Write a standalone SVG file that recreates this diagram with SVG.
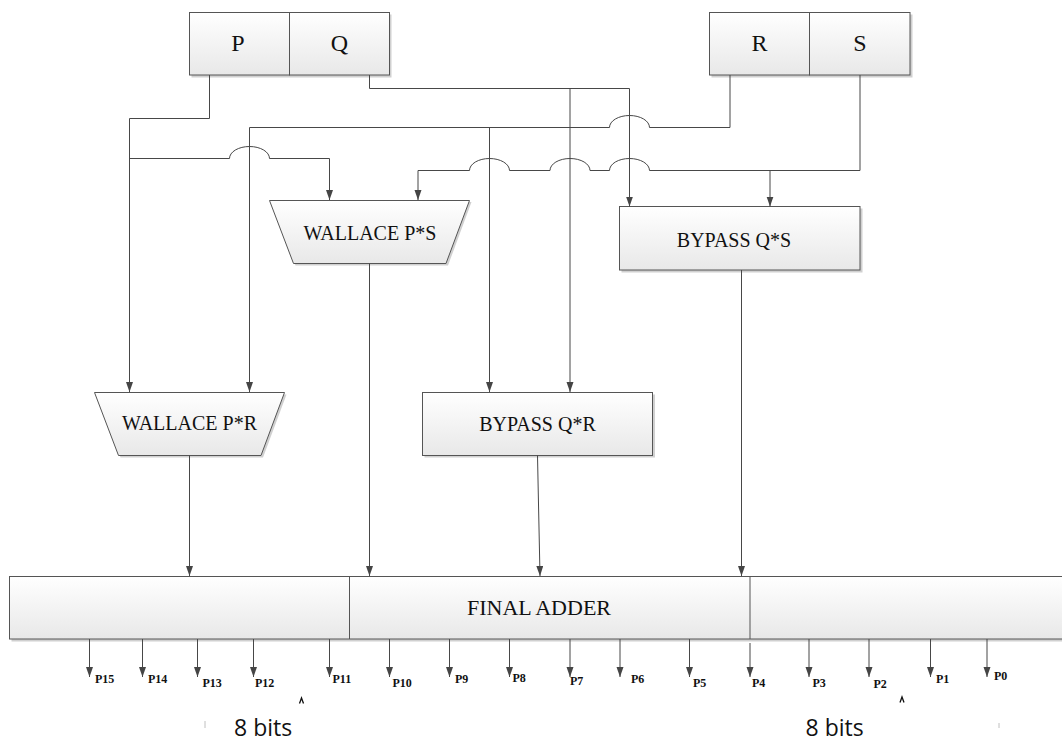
<svg xmlns="http://www.w3.org/2000/svg" width="1062" height="744" viewBox="0 0 1062 744">
<defs>
<linearGradient id="fill" x1="0" y1="0" x2="0" y2="1">
<stop offset="0" stop-color="#ffffff"/>
<stop offset="1" stop-color="#e8e8e8"/>
</linearGradient>
<marker id="arr" markerUnits="userSpaceOnUse" markerWidth="10" markerHeight="8" refX="10" refY="3.5" orient="auto">
<path d="M0,0 L10,3.5 L0,7 z" fill="#454545"/>
</marker>
</defs>
<style>
.shape{fill:url(#fill);stroke:#555;stroke-width:1}
.shadow{fill:#d0d0d0;stroke:none}
.lbl{font-family:"Liberation Serif","Times New Roman",serif;fill:#111;text-anchor:middle}
.conn path,.conn line{fill:none;stroke:#474747;stroke-width:1}
.out{font-family:"Liberation Serif","Times New Roman",serif;font-weight:bold;font-size:12px;fill:#111}
.bits{font-family:"Open Sans","Liberation Sans",sans-serif;font-size:23px;fill:#111}
</style>
<rect width="1062" height="744" fill="#fff"/>

<g id="PQ">
<rect class="shadow" x="191.5" y="14.5" width="200" height="63"/>
<rect class="shape" x="189.5" y="12.5" width="100" height="62.5"/>
<rect class="shape" x="289.5" y="12.5" width="100" height="62.5"/>
<text class="lbl" x="238" y="51" font-size="24">P</text>
<text class="lbl" x="339.5" y="51" font-size="24">Q</text>
</g>

<g id="RS">
<rect class="shadow" x="711.5" y="14.5" width="201" height="63"/>
<rect class="shape" x="709.5" y="12.5" width="100" height="62.5"/>
<rect class="shape" x="809.5" y="12.5" width="100.5" height="62.5"/>
<text class="lbl" x="759.5" y="51" font-size="24">R</text>
<text class="lbl" x="860" y="51" font-size="24">S</text>
</g>

<g id="wallacePS">
<polygon class="shadow" points="271.5,202 471.5,202 448,265.5 295.5,265.5"/>
<polygon class="shape" points="269.5,200.5 469.5,200.5 446,263.5 293.5,263.5"/>
<text class="lbl" x="370" y="240" font-size="20">WALLACE P*S</text>
</g>

<g id="bypassQS">
<rect class="shadow" x="621.5" y="208.5" width="241" height="64"/>
<rect class="shape" x="619.5" y="206.5" width="240.5" height="63.5"/>
<text class="lbl" x="734" y="246.5" font-size="20">BYPASS Q*S</text>
</g>

<g id="wallacePR">
<polygon class="shadow" points="96.5,394.5 286.5,394.5 263,457.5 120.5,457.5"/>
<polygon class="shape" points="94.5,392.5 284.5,392.5 261,455.5 118.5,455.5"/>
<text class="lbl" x="189.5" y="430" font-size="20">WALLACE P*R</text>
</g>

<g id="bypassQR">
<rect class="shadow" x="424.5" y="394.5" width="230.5" height="63"/>
<rect class="shape" x="422.5" y="392.5" width="230" height="63"/>
<text class="lbl" x="537.5" y="430.5" font-size="20">BYPASS Q*R</text>
</g>

<g id="finalAdder">
<rect class="shadow" x="11.5" y="578.5" width="1060" height="63"/>
<rect class="shape" x="9.5" y="576.5" width="1060" height="62.5"/>
<line x1="349.5" y1="576.5" x2="349.5" y2="639" stroke="#555"/>
<line x1="750" y1="576.5" x2="750" y2="639" stroke="#555"/>
<text class="lbl" x="539" y="615" font-size="22">FINAL ADDER</text>
</g>

<g class="conn" id="connectors">
<path d="M209.5,75 V118.5 H129.5 V392" marker-end="url(#arr)"/>
<path d="M129.5,158.5 H229.5 A20,12 0 0 1 269.5,158.5 H329.5 V200" marker-end="url(#arr)"/>
<path d="M369.5,75 V88.5 H629.5 V206.5" marker-end="url(#arr)"/>
<path d="M570,88.5 V392" marker-end="url(#arr)"/>
<path d="M730,75 V127.5 H649.5 A20,12 0 0 0 609.5,127.5 H249.5 V392" marker-end="url(#arr)"/>
<path d="M489.5,127.5 V392" marker-end="url(#arr)"/>
<path d="M860,75 V170.5 H649.5 A20,12 0 0 0 609.5,170.5 H590 A20,12 0 0 0 550,170.5 H509.5 A20,12 0 0 0 469.5,170.5 H418 V200" marker-end="url(#arr)"/>
<path d="M770,170.5 V206.5" marker-end="url(#arr)"/>
<path d="M189.5,455.5 V576" marker-end="url(#arr)"/>
<path d="M369.5,263.5 V576" marker-end="url(#arr)"/>
<path d="M537.5,455.5 L540,576" marker-end="url(#arr)"/>
<path d="M741.5,270 V576" marker-end="url(#arr)"/>
<path d="M89.5,639 V677" marker-end="url(#arr)"/>
<path d="M142.5,639 V677" marker-end="url(#arr)"/>
<path d="M197.5,639 V677" marker-end="url(#arr)"/>
<path d="M253.5,639 V677" marker-end="url(#arr)"/>
<path d="M329.5,639 V677" marker-end="url(#arr)"/>
<path d="M389.5,639 V677" marker-end="url(#arr)"/>
<path d="M449.5,639 V677" marker-end="url(#arr)"/>
<path d="M509.5,639 V677" marker-end="url(#arr)"/>
<path d="M570,639 V677" marker-end="url(#arr)"/>
<path d="M620,639 V677" marker-end="url(#arr)"/>
<path d="M689.5,639 V677" marker-end="url(#arr)"/>
<path d="M750,643 V677" marker-end="url(#arr)"/>
<path d="M809,639 V677" marker-end="url(#arr)"/>
<path d="M869,639 V677" marker-end="url(#arr)"/>
<path d="M930.5,639 V677" marker-end="url(#arr)"/>
<path d="M987,639 V677" marker-end="url(#arr)"/>
</g>

<g id="bitLabels">
<text class="out" x="95" y="683">P15</text>
<text class="out" x="148" y="683">P14</text>
<text class="out" x="202.5" y="687">P13</text>
<text class="out" x="255" y="687">P12</text>
<text class="out" x="332.5" y="683">P11</text>
<text class="out" x="392.5" y="687">P10</text>
<text class="out" x="455" y="683">P9</text>
<text class="out" x="512.5" y="682">P8</text>
<text class="out" x="570" y="685">P7</text>
<text class="out" x="631" y="683">P6</text>
<text class="out" x="693" y="687">P5</text>
<text class="out" x="752" y="687">P4</text>
<text class="out" x="812.5" y="687">P3</text>
<text class="out" x="873.5" y="688">P2</text>
<text class="out" x="936" y="683">P1</text>
<text class="out" x="994" y="680">P0</text>
</g>

<g id="marks">
<path d="M299.5,703.5 L301.5,698 L303.5,703.5" fill="none" stroke="#111" stroke-width="1.3"/>
<path d="M900,702.5 L902,697 L904,702.5" fill="none" stroke="#111" stroke-width="1.3"/>
<line x1="205" y1="721" x2="205" y2="728" stroke="#c0c0c0"/>
<line x1="999" y1="723" x2="999" y2="728" stroke="#c0c0c0"/>
<text class="bits" x="234" y="736">8 bits</text>
<text class="bits" x="805.5" y="736">8 bits</text>
</g>
</svg>
